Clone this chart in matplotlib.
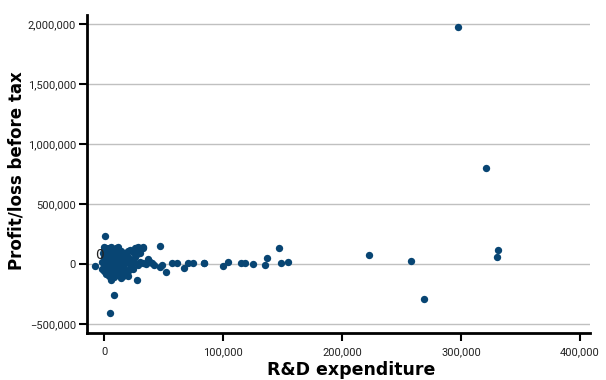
import matplotlib
matplotlib.use("Agg")
import matplotlib.pyplot as plt
from matplotlib.ticker import FuncFormatter

# -----------------------------------
# Data
# -----------------------------------

# R&D expenditure
rd_spend = [
    297500, 320800, 331100, 330000, 222700, 258200, 269200,
    84000, 99700, 104200, 114900, 118700, 124900, 135600, 137300,
    146800, 149000, 154600, 56900, 61000, 67200, 70900, 75000, 83800,
    600, -7800, 8200, 5300, 27700, 47300, 51800, 32800, 27200, 37000,
    38700, 46800, 48500, 23000, 28800, 26000, 28800, 33000,
    0, 2000, 4000, 6000, 1000, 3000, 5000, 8000, 10000, 12000, 14000,
    16000, 18000, 20000, 22000, 24000, 0, 2000, 4000, 6000, 8000,
    10000, 12000, 14000, 16000, 18000, 20000, 22000, 25000, 30000,
    0, 1000, 3000, 5000, 7000, 9000, 11000, 13000, 15000, 17000,
    19000, 21000, 23000, 2000, 4000, 6000, 8000, 10000, 12000, 14000,
    16000, 18000, 0, 1000, 3000, 5000, 7000, 9000, 11000, 13000,
    15000, 17000, 19000, 21000, 24000, 26000, 28000, 30000, 33000,
    35000, 40000, 42000, -2000, -2000, -1000, 0, 6000, 10000, 20000,
    12000, 4000, 7000, 9000, 11000, 13000,
]

# Profit/loss before tax
profit = [
    1975000, 802000, 117000, 61000, 75000, 25000, -294000,
    11000, -17000, 14000, 11000, 11000, 3000, -6000, 47000,
    131000, 11000, 17000, 6000, 6000, -36000, 6000, 6000, 6000,
    236000, -14000, -258000, -406000, -133000, 153000, -69000, 136000,
    131000, 39000, 19000, -22000, -8000, 33000, -8000, 133000, 142000,
    144000,
    140000, 135000, 130000, 138000, 110000, 95000, 120000, 100000,
    115000, 90000, 105000, 80000, 95000, 110000, 120000, 100000,
    60000, 40000, 20000, 55000, 30000, 70000, 45000, 20000, 50000,
    10000, 60000, 30000, 15000, 20000,
    0, -10000, -30000, -50000, -20000, -70000, -40000, -90000,
    -60000, -30000, -80000, -50000, -20000, -80000, -100000, -85000,
    -110000, -95000, -75000, -115000, -100000, -60000, -60000,
    80000, 70000, 85000, 10000, 5000, -5000, 0, -15000, 20000,
    40000, 5000, -40000, 60000, 80000, 90000, 5000, 0, 10000, -5000,
    20000, -40000, 90000, 120000, -130000, 130000, -100000, 140000,
    -60000, 60000, 40000, 95000, 60000,
]

x_ticks = [0, 100000, 200000, 300000, 400000]
y_ticks = [-500000, 0, 500000, 1000000, 1500000, 2000000]

# -----------------------------------
# Plot
# -----------------------------------

plt.rcParams['font.family'] = ['DejaVu Sans']

fig = plt.figure(figsize=(6.06, 3.8), dpi=100)
ax = fig.add_axes([0.1436, 0.1237, 0.83, 0.8368])

ax.scatter(rd_spend, profit, s=28, color="#084573", zorder=3, linewidths=0)

ax.text(-7500, 75000, "0", fontsize=10, ha="left", va="center",
        color="#222222", zorder=4)

ax.set_xlim(-14300, 408400)
ax.set_ylim(-575000, 2075000)
ax.set_xticks(x_ticks)
ax.set_yticks(y_ticks)

fmt = FuncFormatter(lambda v, p: f"{int(v):,}".replace("-", "\u2212"))
ax.xaxis.set_major_formatter(fmt)
ax.yaxis.set_major_formatter(fmt)

ax.grid(axis="y", color="#c0c0c0", linewidth=1.0, zorder=0)
ax.set_axisbelow(True)

for side in ["top", "right"]:
    ax.spines[side].set_visible(False)
for side in ["left", "bottom"]:
    ax.spines[side].set_linewidth(2)

ax.tick_params(direction="out", length=6, width=1.5, labelsize=8,
               labelcolor="#222222", pad=2)
ax.tick_params(axis="x", pad=4)
for lbl in ax.get_xticklabels() + ax.get_yticklabels():
    lbl.set_family(["Roboto", "DejaVu Sans"])

ax.set_xlabel("R&D expenditure", fontsize=12.5, fontweight="bold")
ax.xaxis.set_label_coords(0.525, -0.088)
ax.set_ylabel("Profit/loss before tax", fontsize=12, fontweight="bold")
ax.yaxis.set_label_coords(-0.122, 0.51)

fig.savefig("out.png", dpi=100)
